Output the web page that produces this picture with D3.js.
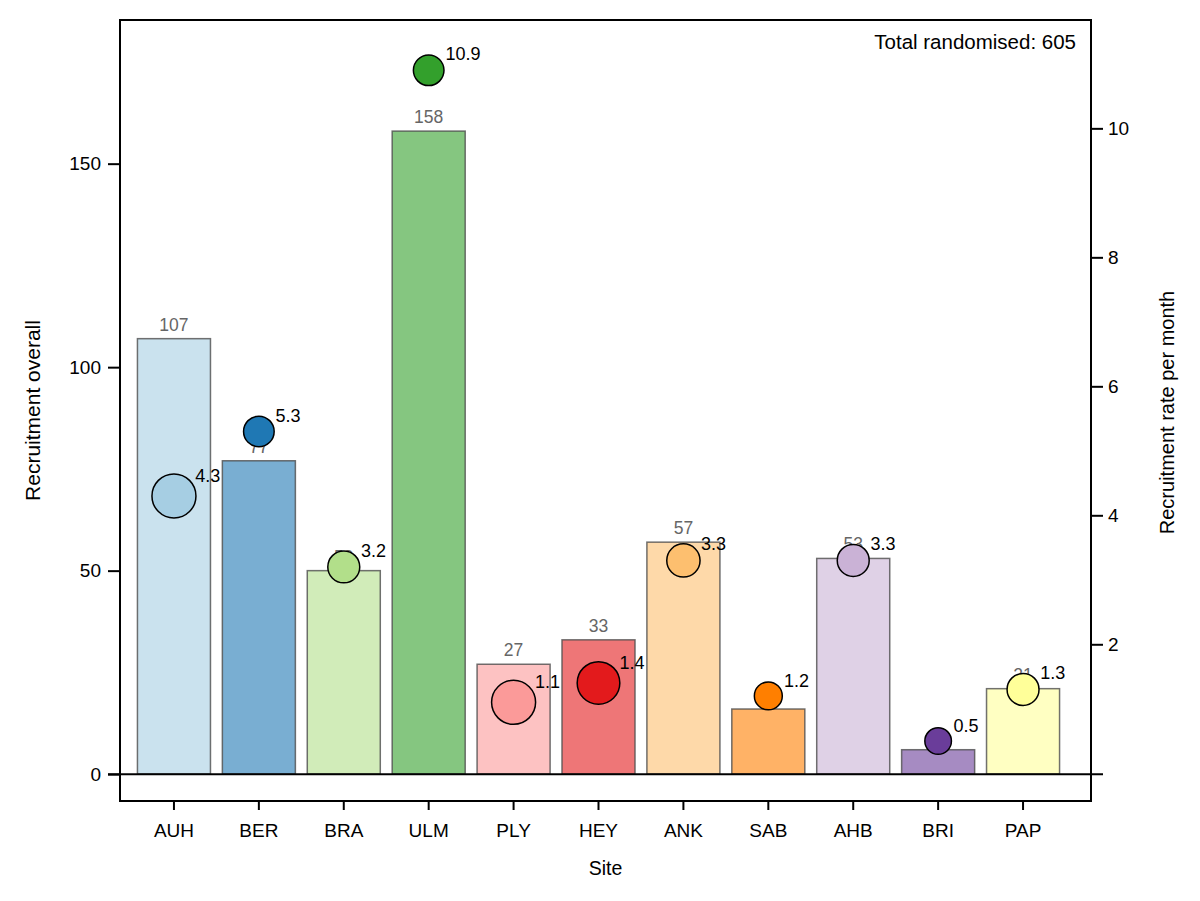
<!DOCTYPE html>
<html>
<head>
<meta charset="utf-8">
<script src="https://cdn.jsdelivr.net/npm/d3@7"></script>
<style>
  body { margin: 0; background: #fff; }
  svg { font-family: "Liberation Sans", Arial, sans-serif; }
</style>
</head>
<body>
<svg id="chart" width="1200" height="901"></svg>
<script>
const sites = ["AUH", "BER", "BRA", "ULM", "PLY", "HEY", "ANK", "SAB", "AHB", "BRI", "PAP"];
const recruited = [107, 77, 50, 158, 27, 33, 57, 16, 53, 6, 21];
const ratePerMonth = [4.3, 5.3, 3.2, 10.9, 1.1, 1.4, 3.3, 1.2, 3.3, 0.5, 1.3];
const monthsOpen = [25, 15, 16, 15, 25, 24, 17, 13, 16, 12, 16];
const siteColours = ["#a6cee3", "#1f78b4", "#b2df8a", "#33a02c", "#fb9a99", "#e31a1c",
  "#fdbf6f", "#ff7f00", "#cab2d6", "#6a3d9a", "#ffff99"];
const leftTicks = [0, 50, 100, 150];
const rightTicks = [2, 4, 6, 8, 10];
const totalRandomised = 605;

const data = sites.map((s, i) => ({
  site: s, n: recruited[i], rate: ratePerMonth[i], months: monthsOpen[i], colour: siteColours[i]
}));

const svg = d3.select("#chart");
const box = { left: 120, right: 1091, top: 20, bottom: 801 };

const x = d3.scaleBand()
  .domain(sites)
  .range([131.5, 1065.5])
  .paddingInner(0.14)
  .paddingOuter(0.07);

const yLeft = d3.scaleLinear().domain([-6.6, 185.3]).range([box.bottom, box.top]);
const yRight = d3.scaleLinear().domain([-0.43, 11.68]).range([box.bottom, box.top]);
const r = d3.scaleLinear().domain([12, 25]).range([13.3, 22]);

// bars
svg.append("g")
  .selectAll("rect")
  .data(data)
  .join("rect")
  .attr("x", (d) => x(d.site))
  .attr("y", (d) => yLeft(d.n))
  .attr("width", x.bandwidth())
  .attr("height", (d) => yLeft(0) - yLeft(d.n))
  .attr("fill", (d) => d.colour)
  .attr("fill-opacity", 0.6)
  .attr("stroke", "#4d4d4d")
  .attr("stroke-opacity", 0.8)
  .attr("stroke-width", 1.5);

// bar labels
svg.append("g")
  .selectAll("text")
  .data(data)
  .join("text")
  .attr("x", (d) => x(d.site) + x.bandwidth() / 2)
  .attr("y", (d) => yLeft(d.n) - 8)
  .attr("text-anchor", "middle")
  .attr("font-size", 17.5)
  .attr("fill", "#666")
  .text((d) => d.n);

// zero line
svg.append("line")
  .attr("x1", box.left - 12)
  .attr("x2", box.right + 12)
  .attr("y1", yLeft(0))
  .attr("y2", yLeft(0))
  .attr("stroke", "#000")
  .attr("stroke-width", 2);

// bubbles
svg.append("g")
  .selectAll("circle")
  .data(data)
  .join("circle")
  .attr("cx", (d) => x(d.site) + x.bandwidth() / 2)
  .attr("cy", (d) => yRight(d.rate))
  .attr("r", (d) => r(d.months))
  .attr("fill", (d) => d.colour)
  .attr("stroke", "#000")
  .attr("stroke-width", 1.5);

svg.append("g")
  .selectAll("text")
  .data(data)
  .join("text")
  .attr("x", (d) => x(d.site) + x.bandwidth() / 2 + r(d.months) * 0.7 + 6)
  .attr("y", (d) => yRight(d.rate) - r(d.months) * 0.65)
  .attr("font-size", 18)
  .attr("fill", "#000")
  .text((d) => d.rate.toFixed(1));

// frame
svg.append("rect")
  .attr("x", box.left)
  .attr("y", box.top)
  .attr("width", box.right - box.left)
  .attr("height", box.bottom - box.top)
  .attr("fill", "none")
  .attr("stroke", "#000")
  .attr("stroke-width", 2);

// axes
const leftAxis = svg.append("g")
  .attr("transform", `translate(${box.left},0)`)
  .call(d3.axisLeft(yLeft).tickValues(leftTicks).tickSize(12).tickPadding(7));
const rightAxis = svg.append("g")
  .attr("transform", `translate(${box.right},0)`)
  .call(d3.axisRight(yRight).tickValues(rightTicks).tickSize(12).tickPadding(5));
const bottomAxis = svg.append("g")
  .attr("transform", `translate(0,${box.bottom})`)
  .call(d3.axisBottom(x).tickSize(9).tickPadding(14));

[leftAxis, rightAxis, bottomAxis].forEach((a) => {
  a.select(".domain").remove();
  a.selectAll(".tick line").attr("stroke", "#000").attr("stroke-width", 2);
  a.selectAll(".tick text").attr("font-size", 19).attr("fill", "#000")
    .attr("font-family", "'Liberation Sans', Arial, sans-serif");
});

// titles
svg.append("text")
  .attr("x", (box.left + box.right) / 2)
  .attr("y", 875)
  .attr("text-anchor", "middle")
  .attr("font-size", 19.5)
  .text("Site");

svg.append("text")
  .attr("transform", `translate(40,${(box.top + box.bottom) / 2}) rotate(-90)`)
  .attr("text-anchor", "middle")
  .attr("font-size", 21)
  .text("Recruitment overall");

svg.append("text")
  .attr("transform", `translate(1174,${(box.top + box.bottom) / 2 + 2}) rotate(-90)`)
  .attr("text-anchor", "middle")
  .attr("font-size", 20)
  .text("Recruitment rate per month");

svg.append("text")
  .attr("x", 1076)
  .attr("y", 49)
  .attr("text-anchor", "end")
  .attr("font-size", 20.5)
  .text(`Total randomised: ${totalRandomised}`);
</script>
</body>
</html>
